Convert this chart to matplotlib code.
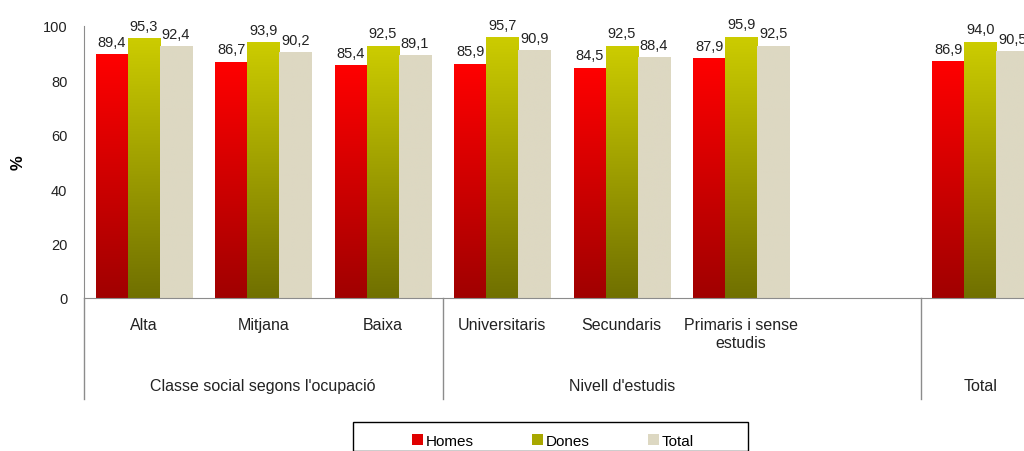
import numpy as np
import matplotlib
matplotlib.use("Agg")
import matplotlib.pyplot as plt
from matplotlib.colors import LinearSegmentedColormap
from matplotlib.patches import Patch, Rectangle

plt.rcParams['font.family'] = ['Liberation Sans', 'DejaVu Sans']

# ---- data ----
categories = ['Alta', 'Mitjana', 'Baixa', 'Universitaris', 'Secundaris',
              'Primaris i sense\nestudis', '', '']
groups = ['Classe social segons l\'ocupació', 'Nivell d\'estudis', 'Total']
group_span = [(0, 3), (3, 6), (7, 8)]
homes = [89.4, 86.7, 85.4, 85.9, 84.5, 87.9, np.nan, 86.9]
dones = [95.3, 93.9, 92.5, 95.7, 92.5, 95.9, np.nan, 94.0]
total = [92.4, 90.2, 89.1, 90.9, 88.4, 92.5, np.nan, 90.5]

series = [
    ('Homes', homes, '#ff0000', '#a00000'),
    ('Dones', dones, '#cccc00', '#707000'),
    ('Total', total, '#ddd8c2', '#ddd8c2'),
]

W, H = 1024, 452
fig = plt.figure(figsize=(W / 100, H / 100), dpi=100)
# axes runs past the right edge, like the original (Total group is cut off)
ax = fig.add_axes([84 / W, (H - 299) / H, (1040 - 84) / W, 272 / H])

bw = 0.268
offs = [-bw, 0, bw]
x = np.arange(len(categories)) + 0.5
for (name, vals, top, bot), off in zip(series, offs):
    cmap = LinearSegmentedColormap.from_list(name, [bot, top])
    for xi, v in zip(x, vals):
        if np.isnan(v):
            continue
        ax.imshow(np.linspace(0, 1, 256).reshape(-1, 1), cmap=cmap,
                  extent=(xi + off - bw / 2, xi + off + bw / 2, 0, v),
                  origin='lower', aspect='auto', zorder=2,
                  interpolation='bilinear')
        ax.text(xi + off, v + 2.2, f"{v:.1f}".replace('.', ','),
                ha='center', va='bottom', fontsize=10.5, color='#222222')

ax.set_xlim(0, len(categories))
ax.set_ylim(0, 100)
ax.set_yticks(range(0, 101, 20))
ax.set_xticks([])
ax.tick_params(axis='y', length=0, labelsize=10.5, pad=12, colors='#222222')
for s in ['top', 'right']:
    ax.spines[s].set_visible(False)
ax.spines['left'].set_color('#8c8c8c')
ax.spines['bottom'].set_color('#8c8c8c')
ax.set_ylabel('%', fontsize=12, fontweight='bold', labelpad=12)

trans = ax.get_xaxis_transform()
for xi, c in zip(x, categories):
    if c:
        ax.text(xi, -0.07, c, transform=trans, ha='center', va='top',
                fontsize=11.5, color='#222222', linespacing=1.25)
for g, (a, b) in zip(groups, group_span):
    ax.text((a + b) / 2, -0.295, g, transform=trans, ha='center', va='top',
            fontsize=11.5, color='#222222')
for sx in [0, 3, 7]:
    ax.plot([sx, sx], [-0.371, 0], transform=trans, color='#8c8c8c',
            lw=1, clip_on=False)

# legend
fig.patches.append(Rectangle((353 / W, 0), (748 - 353) / W, (H - 423) / H,
                             transform=fig.transFigure, fill=False,
                             edgecolor='black', lw=1))
handles = [Patch(facecolor=s[2] if s[0] == 'Total' else s[3], edgecolor='none',
                 label=s[0]) for s in series]
handles[0].set_facecolor('#e00000')
handles[1].set_facecolor('#a8a800')
fig.legend(handles=handles, loc='center', bbox_to_anchor=(553 / W, 1 - 442 / H),
           ncol=3, frameon=False, fontsize=11, handlelength=0.7,
           handleheight=0.7, handletextpad=0.2, columnspacing=3.8)

fig.savefig('out.png', dpi=100)
